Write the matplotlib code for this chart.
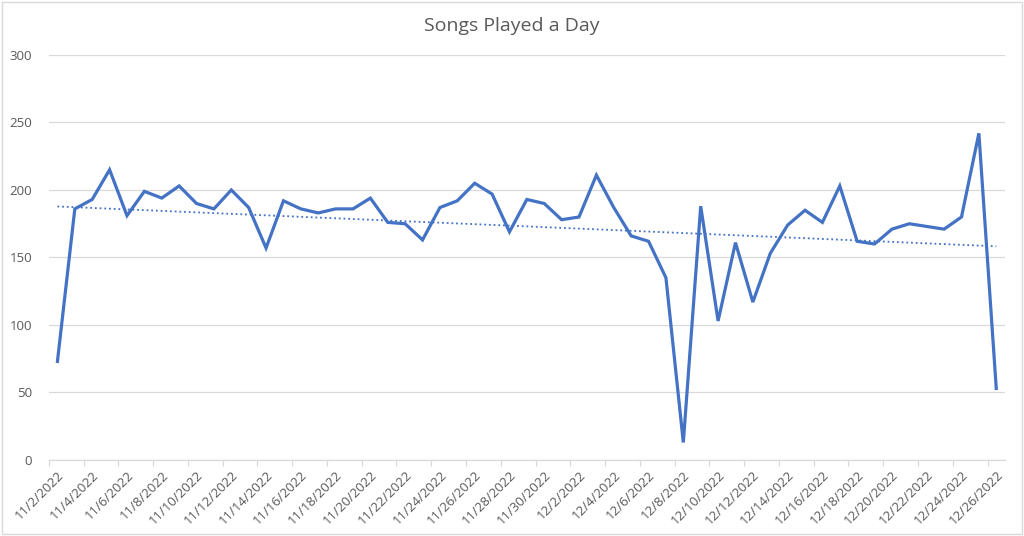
import numpy as np
import pandas as pd
import matplotlib
matplotlib.use("Agg")
import matplotlib.pyplot as plt
from matplotlib.patches import Rectangle

plt.rcParams['font.family'] = ['Open Sans', 'DejaVu Sans']

# daily counts, 11/2/2022 .. 12/26/2022
dates = pd.date_range("2022-11-02", "2022-12-26", freq="D")
songs = [73, 186, 193, 215, 181, 199, 194, 203, 190, 186,
         200, 187, 157, 192, 186, 183, 186, 186, 194, 176,
         175, 163, 187, 192, 205, 197, 169, 193, 190, 178,
         180, 211, 187, 166, 162, 135, 13, 188, 103, 161,
         117, 153, 174, 185, 176, 203, 162, 160, 171, 175,
         173, 171, 180, 242, 53]
labels = [f"{d.month}/{d.day}/{d.year}" for d in dates]

line_col = "#4472C4"
grey = "#595959"
grid_col = "#D9D9D9"

fig = plt.figure(figsize=(10.24, 5.36), dpi=100)
ax = fig.add_axes([0.0476, 0.1418, 0.9338, 0.7556])

x = np.arange(len(songs))
ax.plot(x, songs, color=line_col, linewidth=2.3, solid_joinstyle="miter", zorder=3)

# linear trendline
slope, intercept = np.polyfit(x, songs, 1)
ax.plot(x, slope * x + intercept, color=line_col, linewidth=1.3,
        linestyle=(0, (1, 1.6)), zorder=2)

ax.set_xlim(-0.5, len(songs) - 0.5)
ax.set_ylim(0, 300)
ax.set_yticks(np.arange(0, 301, 50))
ax.yaxis.grid(True, color=grid_col, linewidth=0.9)
ax.set_axisbelow(True)

for s in ["top", "right", "left"]:
    ax.spines[s].set_visible(False)
ax.spines["bottom"].set_color(grid_col)
ax.spines["bottom"].set_linewidth(0.9)

ax.set_xticks(x[::2])
ax.set_xticklabels(labels[::2], rotation=45, ha="right", rotation_mode="anchor",
                   fontsize=9.5, color=grey)
ax.tick_params(axis="x", length=0, pad=6)
ax.set_xticks(x[::2] - 0.5, minor=True)
ax.tick_params(axis="x", which="minor", length=4, color=grid_col, width=0.9)
ax.tick_params(axis="y", length=0, labelsize=9.5, labelcolor=grey, pad=12)

fig.text(0.5, 0.952, "Songs Played a Day", ha="center", va="center",
         fontsize=14, color=grey)

fig.patches.append(Rectangle((0.002, 0.004), 0.996, 0.992, transform=fig.transFigure,
                             fill=False, edgecolor=grid_col, linewidth=1))

fig.savefig("out.png", dpi=100)
